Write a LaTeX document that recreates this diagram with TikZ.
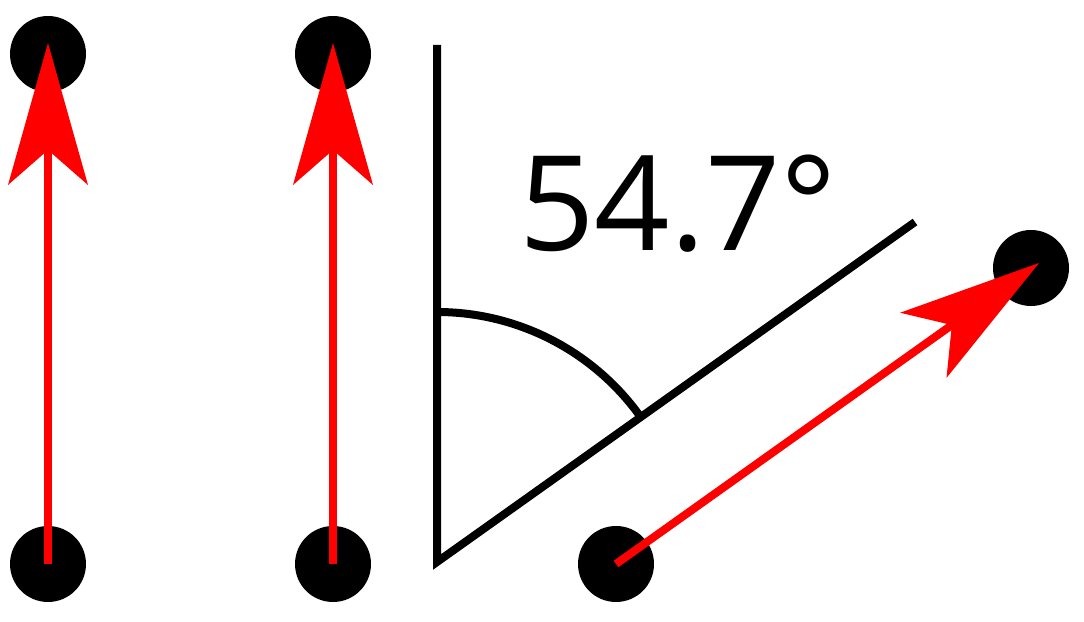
\documentclass[tikz,border=0pt]{standalone}
\usepackage{fontspec}
\setmainfont{Open Sans}
\usetikzlibrary{arrows.meta}
\begin{document}
\begin{tikzpicture}[x=1pt,y=1pt,
  dot/.style={circle,fill=black,inner sep=0pt,minimum size=76pt},
  vec/.style={draw=red,line width=8pt,-{Stealth[length=142pt,width=80pt,inset=35pt,line width=0pt]}},
  geom/.style={draw=black,line width=8pt,line join=miter}]
\useasboundingbox (0,0) rectangle (1084,621);
\node[dot] (a1) at (48,57) {};
\node[dot] (a2) at (48,567) {};
\node[dot] (b1) at (333,57) {};
\node[dot] (b2) at (333,567) {};
\node[dot] (c1) at (616,57) {};
\node[dot] (c2) at (1031,353) {};
\coordinate (ta) at (48,578);
\coordinate (tb) at (333,578);
\coordinate (tc) at (1039,358);
\coordinate (top) at (437,576);
\coordinate (corner) at (437,59);
\coordinate (diag) at (915,399);
\draw[geom] (top) -- (corner) -- (diag);
\draw[geom,line join=round] (437,309) arc[start angle=90,end angle=35.4,radius=250];
\node[anchor=base west,inner sep=0pt,font=\fontsize{132}{140}\selectfont] (lbl) at (519,370) {54.7°};
\draw[vec] (a1.center) -- (ta);
\draw[vec] (b1.center) -- (tb);
\draw[vec] (c1.center) -- (tc);
\end{tikzpicture}
\end{document}
